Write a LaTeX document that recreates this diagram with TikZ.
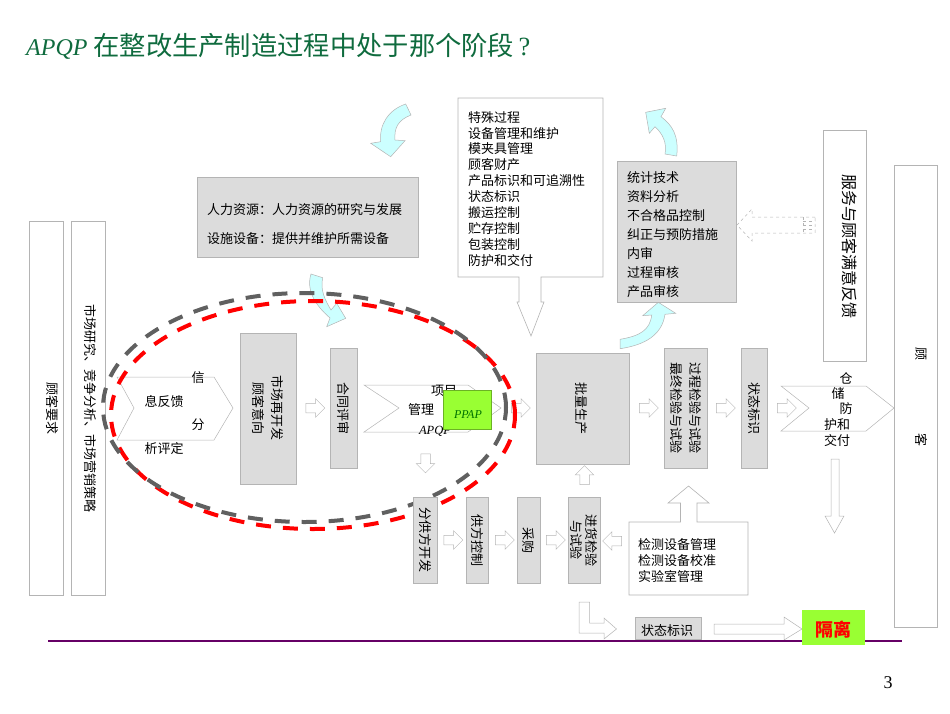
\documentclass[tikz,border=0pt]{standalone}
\usepackage{fontspec}
\setmainfont{Noto Sans CJK SC}
\newfontfamily\latinfont{Liberation Serif}
\usepackage{xcolor}
\usetikzlibrary{shapes,arrows,positioning}
\definecolor{boxgray}{HTML}{DCDCDC}
\definecolor{linegray}{HTML}{B4B4B4}
\definecolor{arrowcyan}{HTML}{CCFFFF}
\definecolor{limegreen}{HTML}{99FF33}
\definecolor{titlegreen}{HTML}{0F6B3E}
\definecolor{ringgray}{HTML}{606060}
\definecolor{rulepurple}{HTML}{660066}
\tikzset{
	txt/.style={font=\fontsize{13}{15.9}\selectfont,inner sep=0pt,align=left},
	graybox/.style={draw=linegray,fill=boxgray,line width=.8pt},
	whitebox/.style={draw=linegray,fill=white,line width=.8pt},
	blockarrow/.style={draw=linegray,fill=white,line width=.5pt,single arrow,single arrow head extend=4.5pt,text height=9pt,text depth=0pt,minimum height=19pt,inner sep=0pt},
	curvearrow/.style={draw=linegray,fill=arrowcyan,line width=.5pt},
	ring/.style={line width=4pt,dash pattern=on 15pt off 12pt},
}
\begin{document}
\begin{tikzpicture}[x=1pt,y=-1pt]
		\useasboundingbox (0,0) rectangle (950,713);
		\node[anchor=west,inner sep=0pt,text=titlegreen,font=\fontsize{26.3}{28}\selectfont] (title) at (26,46) {{\fontsize{24}{26}\selectfont\latinfont\itshape APQP} 在整改生产制造过程中处于那个阶段\,{\latinfont ?}};
		% curved arrows
		\draw[curvearrow] (405.7,104) -- (411,115) .. controls (398,120) and (394,128) .. (395,140) -- (405,140.7) -- (390.7,156.7) -- (370.7,143.3) -- (380.7,141.7) .. controls (379,125) and (388,110) .. (405.7,104) -- cycle;
		\draw[curvearrow] (645.7,112.3) -- (665.7,108.3) -- (661,116.7) .. controls (672,125) and (679,135) .. (676.7,156) -- (665,154) .. controls (667,143) and (663,134) .. (655,126.7) -- (649.3,133.3) -- cycle;
		\draw[curvearrow] (620,339.3) .. controls (640,336) and (650,330) .. (651.7,315) -- (642.7,315.7) -- (658.3,302.3) -- (675.7,313.3) -- (665,314.3) .. controls (662,335) and (645,345) .. (620,348.7) -- cycle;
		\draw[curvearrow] (311,274) .. controls (306,290) and (315,305) .. (330,318) -- (326.7,326.7) -- (345.7,318.3) -- (336.7,303.3) -- (331,310) .. controls (325,300) and (320,290) .. (322.7,277.7) -- cycle;
		% left columns
		\draw[whitebox] (29,221) rectangle (63,595);
		\draw[whitebox] (71,221) rectangle (105,595);
		\node[txt,rotate=-90] (need) at (52,408) {顾客要求};
		\node[txt,rotate=-90] (market) at (90,408) {市场研究、竞争分析、市场营销策略};
		% chevrons
		\draw[draw=linegray,line width=.5pt] (117,377) -- (214,377) -- (233,408) -- (214,440) -- (117,440) -- (134,408) -- cycle;
		\node[txt] (fb1) at (198,378) {信};
		\node[txt] (fb2) at (164,402) {息反馈};
		\node[txt] (fb3) at (198,425) {分};
		\node[txt] (fb4) at (164,449) {析评定};
		\draw[draw=linegray,line width=.5pt] (364,385) -- (468,385) -- (501,408) -- (468,432) -- (364,432) -- (399,408) -- cycle;
		\node[txt] (pm1) at (444,391) {项目};
		\node[txt] (pm2) at (421,410) {管理};
		\node[txt,font=\fontsize{12.5}{15}\selectfont\latinfont\itshape] (pm3) at (435,431) {APQP};
		\draw[draw=linegray,line width=.5pt] (781,386) -- (866,386) -- (894,408) -- (866,431) -- (781,431) -- (809,408) -- cycle;
		\node[txt] (st1) at (846,378) {仓};
		\node[txt] (st2) at (838,394) {储};
		\node[txt] (st3) at (846,409) {防};
		\node[txt] (st4) at (837,425) {护和};
		\node[txt] (st5) at (837,441) {交付};
		% gray boxes
		\draw[graybox] (197,177) rectangle (418,257);
		\node[txt,anchor=west] (res1) at (207,210) {人力资源：人力资源的研究与发展};
		\node[txt,anchor=west] (res2) at (207,239) {设施设备：提供并维护所需设备};
		\draw[graybox] (240,333) rectangle (296,484);
		\node[txt,rotate=-90,align=center,font=\fontsize{13}{19}\selectfont] (dev) at (268,408) {市场再开发\\顾客意向};
		\draw[graybox] (330,348) rectangle (357,468);
		\node[txt,rotate=-90] (contract) at (343.5,408) {合同评审};
		% small arrows
		\node[blockarrow] (a1) at (313,408) {};
		\node[blockarrow] (a2) at (518.5,408) {};
		\node[blockarrow,rotate=-90] (a3) at (425.5,461) {};
		% ppap
		\draw[draw=limegreen!70!black,fill=limegreen,line width=.5pt] (443,390) rectangle (491,429);
		\node[inner sep=0pt,text=green!45!black,font=\fontsize{12}{14}\selectfont\latinfont\itshape] (ppap) at (468,415) {PPAP};
		% rings
		\draw[ring,red] (313,415) ellipse (202pt and 114pt);
		\draw[ring,ringgray] (304.5,407.5) ellipse (201.5pt and 114.5pt);
		% callout
		\draw[whitebox,line width=.6pt] (458,98) -- (603,98) -- (603,277) -- (541,277) -- (541,302) -- (544,302) -- (531,336) -- (517,302) -- (519,302) -- (519,277) -- (458,277) -- cycle;
		\node[txt,anchor=north west] (special) at (468,111) {特殊过程\\设备管理和维护\\模夹具管理\\顾客财产\\产品标识和可追溯性\\状态标识\\搬运控制\\贮存控制\\包装控制\\防护和交付};
		\draw[graybox] (617,161) rectangle (736,302);
		\node[txt,anchor=north west,font=\fontsize{13}{19}\selectfont] (stats) at (627,171) {统计技术\\资料分析\\不合格品控制\\纠正与预防措施\\内审\\过程审核\\产品审核};
		% dashed arrow
		\draw[draw=linegray,dashed,line width=.5pt] (815,217) -- (752,217) -- (752,209) -- (737,225) -- (752,241) -- (752,233) -- (815,233) -- cycle;
		\draw[draw=linegray,dashed,line width=.5pt] (803,217) -- (803,233);
		\draw[draw=linegray,dashed,line width=.5pt] (803,221) -- (815,221) (803,225) -- (815,225) (803,229) -- (815,229);
		% right columns
		\draw[whitebox] (823,130) rectangle (866,361);
		\node[txt,rotate=-90,font=\fontsize{16}{18}\selectfont] (service) at (850,246) {服务与顾客满意反馈};
		\draw[whitebox] (894,165) rectangle (937,627);
		\node[txt,rotate=-90] (c1) at (921,354) {顾};
		\node[txt,rotate=-90] (c2) at (921,440) {客};
		% production row
		\draw[graybox] (536,353) rectangle (629,464);
		\node[txt,rotate=-90] (mass) at (581,408) {批量生产};
		\draw[graybox] (664,348) rectangle (707,468);
		\node[txt,rotate=-90,align=center,font=\fontsize{13}{19}\selectfont] (check) at (685.5,408) {过程检验与试验\\最终检验与试验};
		\draw[graybox] (741,348) rectangle (767,468);
		\node[txt,rotate=-90] (mark1) at (754,408) {状态标识};
		\node[blockarrow] (a4) at (646.5,408) {};
		\node[blockarrow] (a5) at (723.5,408) {};
		\node[blockarrow] (a6) at (784.5,408) {};
		% purchase row
		\draw[graybox] (413.5,497) rectangle (437,583);
		\node[txt,rotate=-90] (sub) at (425.5,540) {分供方开发};
		\draw[graybox] (466,497) rectangle (488,583);
		\node[txt,rotate=-90] (sup) at (477,540) {供方控制};
		\draw[graybox] (517,497) rectangle (540,583);
		\node[txt,rotate=-90] (buy) at (528.5,540) {采购};
		\draw[graybox] (568,497) rectangle (600,583);
		\node[txt,rotate=-90,align=center,font=\fontsize{13}{15.5}\selectfont] (incoming) at (584,540) {进货检验\\与试验};
		\node[blockarrow] (a7) at (451,540) {};
		\node[blockarrow] (a8) at (502.5,540) {};
		\node[blockarrow] (a9) at (553.5,540) {};
		\node[blockarrow,rotate=180] (a10) at (614.5,541) {};
		\node[blockarrow,rotate=90] (a11) at (584.5,477.5) {};
		% lab box
		\draw[whitebox,line width=.6pt] (629,522) -- (680.5,522) -- (680.5,503) -- (668,503) -- (688.5,486) -- (709,503) -- (697,503) -- (697,522) -- (748,522) -- (748,595) -- (629,595) -- cycle;
		\node[txt,anchor=north west] (lab) at (638,538) {检测设备管理\\检测设备校准\\实验室管理};
		% long arrows
		\draw[draw=linegray,fill=white,line width=.5pt] (831,459) -- (839,459) -- (839,516) -- (844,516) -- (834.5,533) -- (825,516) -- (831,516) -- cycle;
		\draw[draw=linegray,fill=white,line width=.5pt] (579,602) -- (589.5,602) -- (589.5,623) -- (604,623) -- (604,618) -- (616.5,629) -- (604,639) -- (604,633) -- (579,633) -- cycle;
		\draw[draw=linegray,fill=white,line width=.5pt] (714,624) -- (784,624) -- (784,617) -- (802,629) -- (784,640) -- (784,634) -- (714,634) -- cycle;
		% bottom
		\draw[rulepurple,line width=2pt] (48,641) -- (902,641);
		\draw[graybox] (635,617) rectangle (701,639);
		\node[txt] (mark2) at (667,631) {状态标识};
		\fill[limegreen] (802,610) rectangle (865,645);
		\node[inner sep=0pt,text=red,font=\fontsize{18}{20}\selectfont\bfseries] (iso) at (833,630) {隔离};
		\node[inner sep=0pt,font=\fontsize{18}{20}\selectfont\latinfont] (page) at (888,683) {3};
	\end{tikzpicture}
\end{document}
